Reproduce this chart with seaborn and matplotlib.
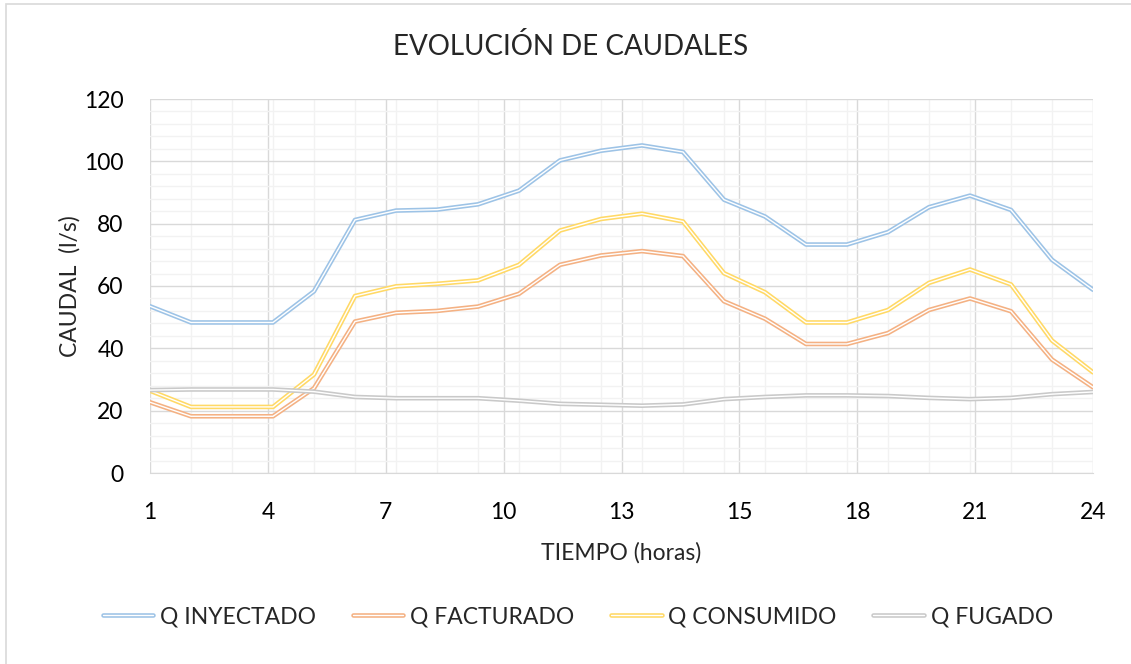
import numpy as np
import pandas as pd
import matplotlib
matplotlib.use("Agg")
import matplotlib.pyplot as plt
import matplotlib.patheffects as pe
from matplotlib.patches import Rectangle
from matplotlib.ticker import FixedLocator, MultipleLocator
import seaborn as sns

# datos (l/s por hora)
horas = list(range(1, 25))
q_inyectado = [53.5, 48.3, 48.3, 48.3, 58.3, 81.2, 84.2, 84.5, 86.2, 90.6, 100.3, 103.4,
               105.1, 103.0, 87.7, 82.3, 73.3, 73.3, 77.3, 85.3, 89.0, 84.4, 68.4, 58.8]
q_facturado = [22.7, 18.2, 18.2, 18.2, 27.2, 48.6, 51.4, 52.0, 53.4, 57.5, 66.8, 69.8,
               71.2, 69.6, 55.1, 49.5, 41.4, 41.4, 44.9, 52.3, 56.0, 51.9, 36.4, 27.5]
q_consumido = [26.4, 21.2, 21.2, 21.2, 31.6, 56.8, 59.9, 60.7, 61.8, 66.8, 77.8, 81.5,
               83.2, 80.7, 64.1, 58.0, 48.3, 48.3, 52.3, 61.0, 65.3, 60.5, 42.5, 32.3]
q_fugado = [26.6, 26.8, 26.8, 26.8, 26.1, 24.4, 24.0, 24.0, 24.0, 23.2, 22.2, 21.9,
            21.6, 22.0, 23.7, 24.4, 24.9, 24.9, 24.7, 24.1, 23.7, 24.1, 25.3, 26.0]
series = ["Q INYECTADO", "Q FACTURADO", "Q CONSUMIDO", "Q FUGADO"]
x_tick_labels = ["1", "4", "7", "10", "13", "15", "18", "21", "24"]

colores = ["#9DC3E6", "#F4B183", "#FFD966", "#C9C9C9"]

sns.set_style("white")
plt.rcParams['font.family'] = ['Lato', 'DejaVu Sans']

fig = plt.figure(figsize=(11.31, 6.64), dpi=100)
ax = fig.add_axes([150/1131, 1-473/664, 943/1131, 374/664])

df = pd.DataFrame({"hora": horas, "Q INYECTADO": q_inyectado, "Q FACTURADO": q_facturado,
                   "Q CONSUMIDO": q_consumido, "Q FUGADO": q_fugado})

for nombre, c in zip(series, colores):
    sns.lineplot(data=df, x="hora", y=nombre, ax=ax, color=c, label=nombre)
    # linea doble estilo excel
    ax.lines[-1].set_path_effects([pe.Stroke(linewidth=3.3, foreground=c),
                                   pe.Stroke(linewidth=1.0, foreground="white")])

ax.set_xlim(1, 24)
ax.set_ylim(0, 120)
ax.xaxis.set_major_locator(FixedLocator(np.linspace(1, 24, 9)))
ax.xaxis.set_minor_locator(MultipleLocator(1))
ax.set_xticklabels(x_tick_labels)
ax.yaxis.set_major_locator(MultipleLocator(20))
ax.yaxis.set_minor_locator(MultipleLocator(4))

ax.grid(which="major", color="#D9D9D9", linewidth=1)
ax.grid(which="minor", color="#F2F2F2", linewidth=1)
ax.set_axisbelow(True)
ax.tick_params(which="both", length=0)
ax.tick_params(axis="y", pad=19, labelsize=16.5, labelcolor="#000000")
ax.tick_params(axis="x", pad=21, labelsize=16.5, labelcolor="#000000")
for s in ["top", "right"]:
    ax.spines[s].set_visible(False)
ax.spines["left"].set_visible(False)
ax.spines["bottom"].set_color("#D9D9D9")
ax.set_xlabel("")
ax.set_ylabel("")

fig.text(571/1131, 1-55/664, "EVOLUCIÓN DE CAUDALES", ha="center", va="baseline",
         fontsize=20, fontweight="normal", color="#262626")
fig.text(621/1131, 1-553/664, "TIEMPO (horas)", ha="center", va="center", fontsize=16.5)
fig.text(70/1131, 1-286/664, "CAUDAL  (l/s)", ha="center", va="center", rotation=90, fontsize=16.5)

handles, labels = ax.get_legend_handles_labels()
ax.legend(handles, labels, loc="center", bbox_to_anchor=(578/1131, 1-617/664),
          bbox_transform=fig.transFigure, ncol=4, frameon=False, fontsize=16.5,
          handlelength=2.2, handletextpad=0.3, columnspacing=1.6)

fig.add_artist(Rectangle((6/1131, -0.05), 1.1, 1-4/664 + 0.05, transform=fig.transFigure,
                         fill=False, edgecolor="#D9D9D9", linewidth=1.2))

fig.savefig("out.png", dpi=100)
